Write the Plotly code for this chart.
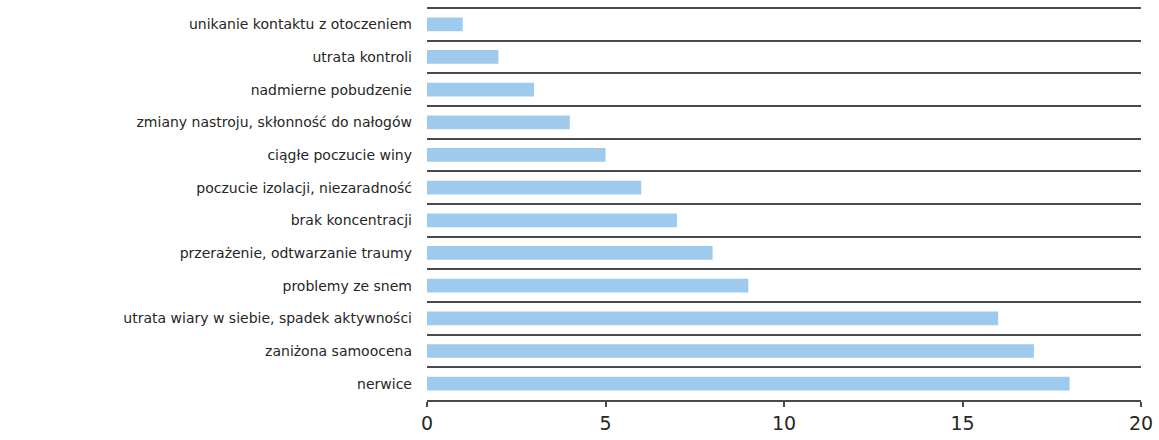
import plotly.graph_objects as go

# Symptoms listed top to bottom, with the number of responses for each
categories = [
    "unikanie kontaktu z otoczeniem",
    "utrata kontroli",
    "nadmierne pobudzenie",
    "zmiany nastroju, skłonność do nałogów",
    "ciągłe poczucie winy",
    "poczucie izolacji, niezaradność",
    "brak koncentracji",
    "przerażenie, odtwarzanie traumy",
    "problemy ze snem",
    "utrata wiary w siebie, spadek aktywności",
    "zaniżona samoocena",
    "nerwice",
]
values = [1, 2, 3, 4, 5, 6, 7, 8, 9, 16, 17, 18]
x_ticks = [0, 5, 10, 15, 20]

positions = list(range(len(categories)))
boundaries = [p - 0.5 for p in range(len(categories) + 1)]

BAR_COLOR = "#9ECAEE"
LINE_COLOR = "#4a4a4a"
TEXT_COLOR = "#262626"
FONT = "DejaVu Sans"

fig = go.Figure(
    go.Bar(
        x=values,
        y=positions,
        orientation="h",
        width=0.42,
        marker=dict(color=BAR_COLOR, line=dict(width=0)),
        hoverinfo="skip",
    )
)

fig.update_layout(
    width=1159,
    height=440,
    margin=dict(l=427, r=16, t=6, b=32),
    paper_bgcolor="white",
    plot_bgcolor="white",
    showlegend=False,
    font=dict(family=FONT, color=TEXT_COLOR),
    xaxis=dict(
        range=[0, 20],
        tickmode="array",
        tickvals=x_ticks,
        ticktext=[str(t) for t in x_ticks],
        ticks="outside",
        ticklen=5,
        tickwidth=2,
        tickcolor=LINE_COLOR,
        showline=True,
        linecolor=LINE_COLOR,
        linewidth=2,
        showgrid=False,
        zeroline=False,
        tickfont=dict(size=19, color=TEXT_COLOR, family=FONT),
        fixedrange=True,
    ),
    yaxis=dict(
        # a small pad above the first band keeps the top separator visible
        range=[len(categories) - 0.5, -0.56],
        tickmode="array",
        tickvals=positions,
        ticktext=categories,
        ticks="",
        ticklabelstandoff=14,
        showline=False,
        showgrid=False,
        zeroline=False,
        tickfont=dict(size=14, color=TEXT_COLOR, family=FONT),
        minor=dict(
            tickmode="array",
            tickvals=boundaries,
            showgrid=True,
            gridcolor=LINE_COLOR,
            gridwidth=2,
            ticks="",
        ),
        fixedrange=True,
    ),
)

fig.write_html("out.html", config={"displayModeBar": False})
